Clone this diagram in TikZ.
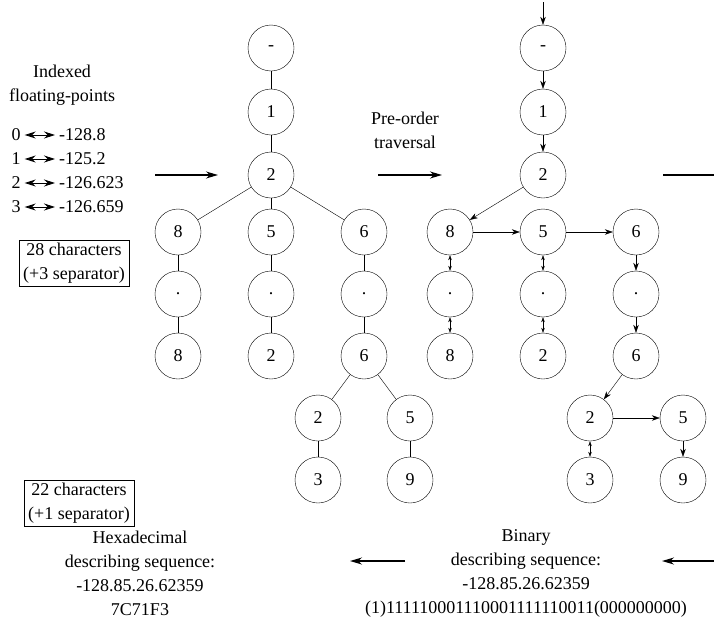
\documentclass[tikz,border=0pt]{standalone}
\usepackage{fontspec}
\setmainfont{Liberation Serif}
\usetikzlibrary{arrows.meta}
\tikzset{
  vtx/.style={draw, circle, minimum size=46pt, inner sep=0pt},
  trv/.style={-{Stealth[length=8pt,width=5.5pt]}, thin},
  twoway/.style={{Stealth[length=5pt,width=3.5pt]}-{Stealth[length=5pt,width=3.5pt]}, thin},
  bigarr/.style={-{Stealth[length=12pt,width=7pt]}, line width=1.3pt},
  idxarr/.style={{Stealth[length=11pt,width=7pt]}-{Stealth[length=11pt,width=7pt]}, line width=0.9pt},
  lbl/.style={align=center, inner sep=0pt}
}
\begin{document}
\begin{tikzpicture}[x=1pt, y=-1pt, font=\fontsize{18}{24}\selectfont]
\useasboundingbox (0,0) rectangle (714,621);

% indexed values
\node[lbl] (title) at (62,85) {Indexed\\floating-points};
\node[inner sep=1pt] (i0) at (16,135) {0};
\node[inner sep=1pt] (i1) at (16,159) {1};
\node[inner sep=1pt] (i2) at (16,183) {2};
\node[inner sep=1pt] (i3) at (16,207) {3};
\node[anchor=west, inner sep=1pt] (v0) at (58,135) {-128.8};
\node[anchor=west, inner sep=1pt] (v1) at (58,159) {-125.2};
\node[anchor=west, inner sep=1pt] (v2) at (58,183) {-126.623};
\node[anchor=west, inner sep=1pt] (v3) at (58,207) {-126.659};
\draw[idxarr] ([xshift=3pt]i0.east) -- ([xshift=-3pt]v0.west);
\draw[idxarr] ([xshift=3pt]i1.east) -- ([xshift=-3pt]v1.west);
\draw[idxarr] ([xshift=3pt]i2.east) -- ([xshift=-3pt]v2.west);
\draw[idxarr] ([xshift=3pt]i3.east) -- ([xshift=-3pt]v3.west);
\node[draw, lbl, inner xsep=4pt, inner ysep=3pt] (box28) at (74,263) {28 characters\\(+3 separator)};
\node[draw, lbl, inner xsep=4pt, inner ysep=3pt] (box22) at (79,503) {22 characters\\(+1 separator)};

% left tree
\node[vtx] (l0) at (271,48) {-};
\node[vtx] (l1) at (271,112) {1};
\node[vtx] (l2) at (271,175) {2};
\node[vtx] (la8) at (178,232) {8};
\node[vtx] (lb5) at (271,232) {5};
\node[vtx] (lc6) at (364,232) {6};
\node[vtx] (lad) at (178,294) {.};
\node[vtx] (lbd) at (271,294) {.};
\node[vtx] (lcd) at (364,294) {.};
\node[vtx] (la88) at (178,356) {8};
\node[vtx] (lb2) at (271,356) {2};
\node[vtx] (lc66) at (364,356) {6};
\node[vtx] (ld2) at (318,418) {2};
\node[vtx] (le5) at (410,418) {5};
\node[vtx] (ld3) at (318,480) {3};
\node[vtx] (le9) at (410,480) {9};
\draw (l0) -- (l1) -- (l2);
\draw (l2) -- (la8);
\draw (l2) -- (lb5);
\draw (l2) -- (lc6);
\draw (la8) -- (lad) -- (la88);
\draw (lb5) -- (lbd) -- (lb2);
\draw (lc6) -- (lcd) -- (lc66);
\draw (lc66) -- (ld2);
\draw (lc66) -- (le5);
\draw (ld2) -- (ld3);
\draw (le5) -- (le9);

% right tree (traversal)
\coordinate (start) at (543,2);
\node[vtx] (r0) at (543,48) {-};
\node[vtx] (r1) at (543,112) {1};
\node[vtx] (r2) at (543,175) {2};
\node[vtx] (ra8) at (450,232) {8};
\node[vtx] (rb5) at (543,232) {5};
\node[vtx] (rc6) at (636,232) {6};
\node[vtx] (rad) at (450,294) {.};
\node[vtx] (rbd) at (543,294) {.};
\node[vtx] (rcd) at (636,294) {.};
\node[vtx] (ra88) at (450,356) {8};
\node[vtx] (rb2) at (543,356) {2};
\node[vtx] (rc66) at (636,356) {6};
\node[vtx] (rd2) at (590,418) {2};
\node[vtx] (re5) at (683,418) {5};
\node[vtx] (rd3) at (590,480) {3};
\node[vtx] (re9) at (683,480) {9};
\draw[trv] (start) -- (r0);
\draw[trv] (r0) -- (r1);
\draw[trv] (r1) -- (r2);
\draw[trv] (r2) -- (ra8);
\draw[trv] (ra8) -- (rb5);
\draw[trv] (rb5) -- (rc6);
\draw[twoway] (ra8) -- (rad);
\draw[twoway] (rad) -- (ra88);
\draw[twoway] (rb5) -- (rbd);
\draw[twoway] (rbd) -- (rb2);
\draw[trv] (rc6) -- (rcd);
\draw[trv] (rcd) -- (rc66);
\draw[trv] (rc66) -- (rd2);
\draw[trv] (rd2) -- (re5);
\draw[twoway] (rd2) -- (rd3);
\draw[trv] (re5) -- (re9);

% stage arrows
\coordinate (s1a) at (155,175);
\coordinate (s1b) at (218,175);
\coordinate (s2a) at (378,175);
\coordinate (s2b) at (442,175);
\coordinate (s3a) at (663,175);
\coordinate (s3b) at (714,175);
\draw[bigarr] (s1a) -- (s1b);
\draw[bigarr] (s2a) -- (s2b);
\draw[line width=1.3pt] (s3a) -- (s3b);
\node[lbl] (pre) at (405,130) {Pre-order\\traversal};

% sequences
\node[lbl] (binseq) at (526,573) {Binary\\describing sequence:\\-128.85.26.62359\\(1)111110001110001111110011(000000000)};
\node[lbl] (hexseq) at (140,573) {Hexadecimal\\describing sequence:\\-128.85.26.62359\\7C71F3};
\coordinate (b1a) at (714,561);
\coordinate (b1b) at (662,561);
\coordinate (b2a) at (405,561);
\coordinate (b2b) at (350,561);
\draw[bigarr] (b1a) -- (b1b);
\draw[bigarr] (b2a) -- (b2b);
\end{tikzpicture}
\end{document}
